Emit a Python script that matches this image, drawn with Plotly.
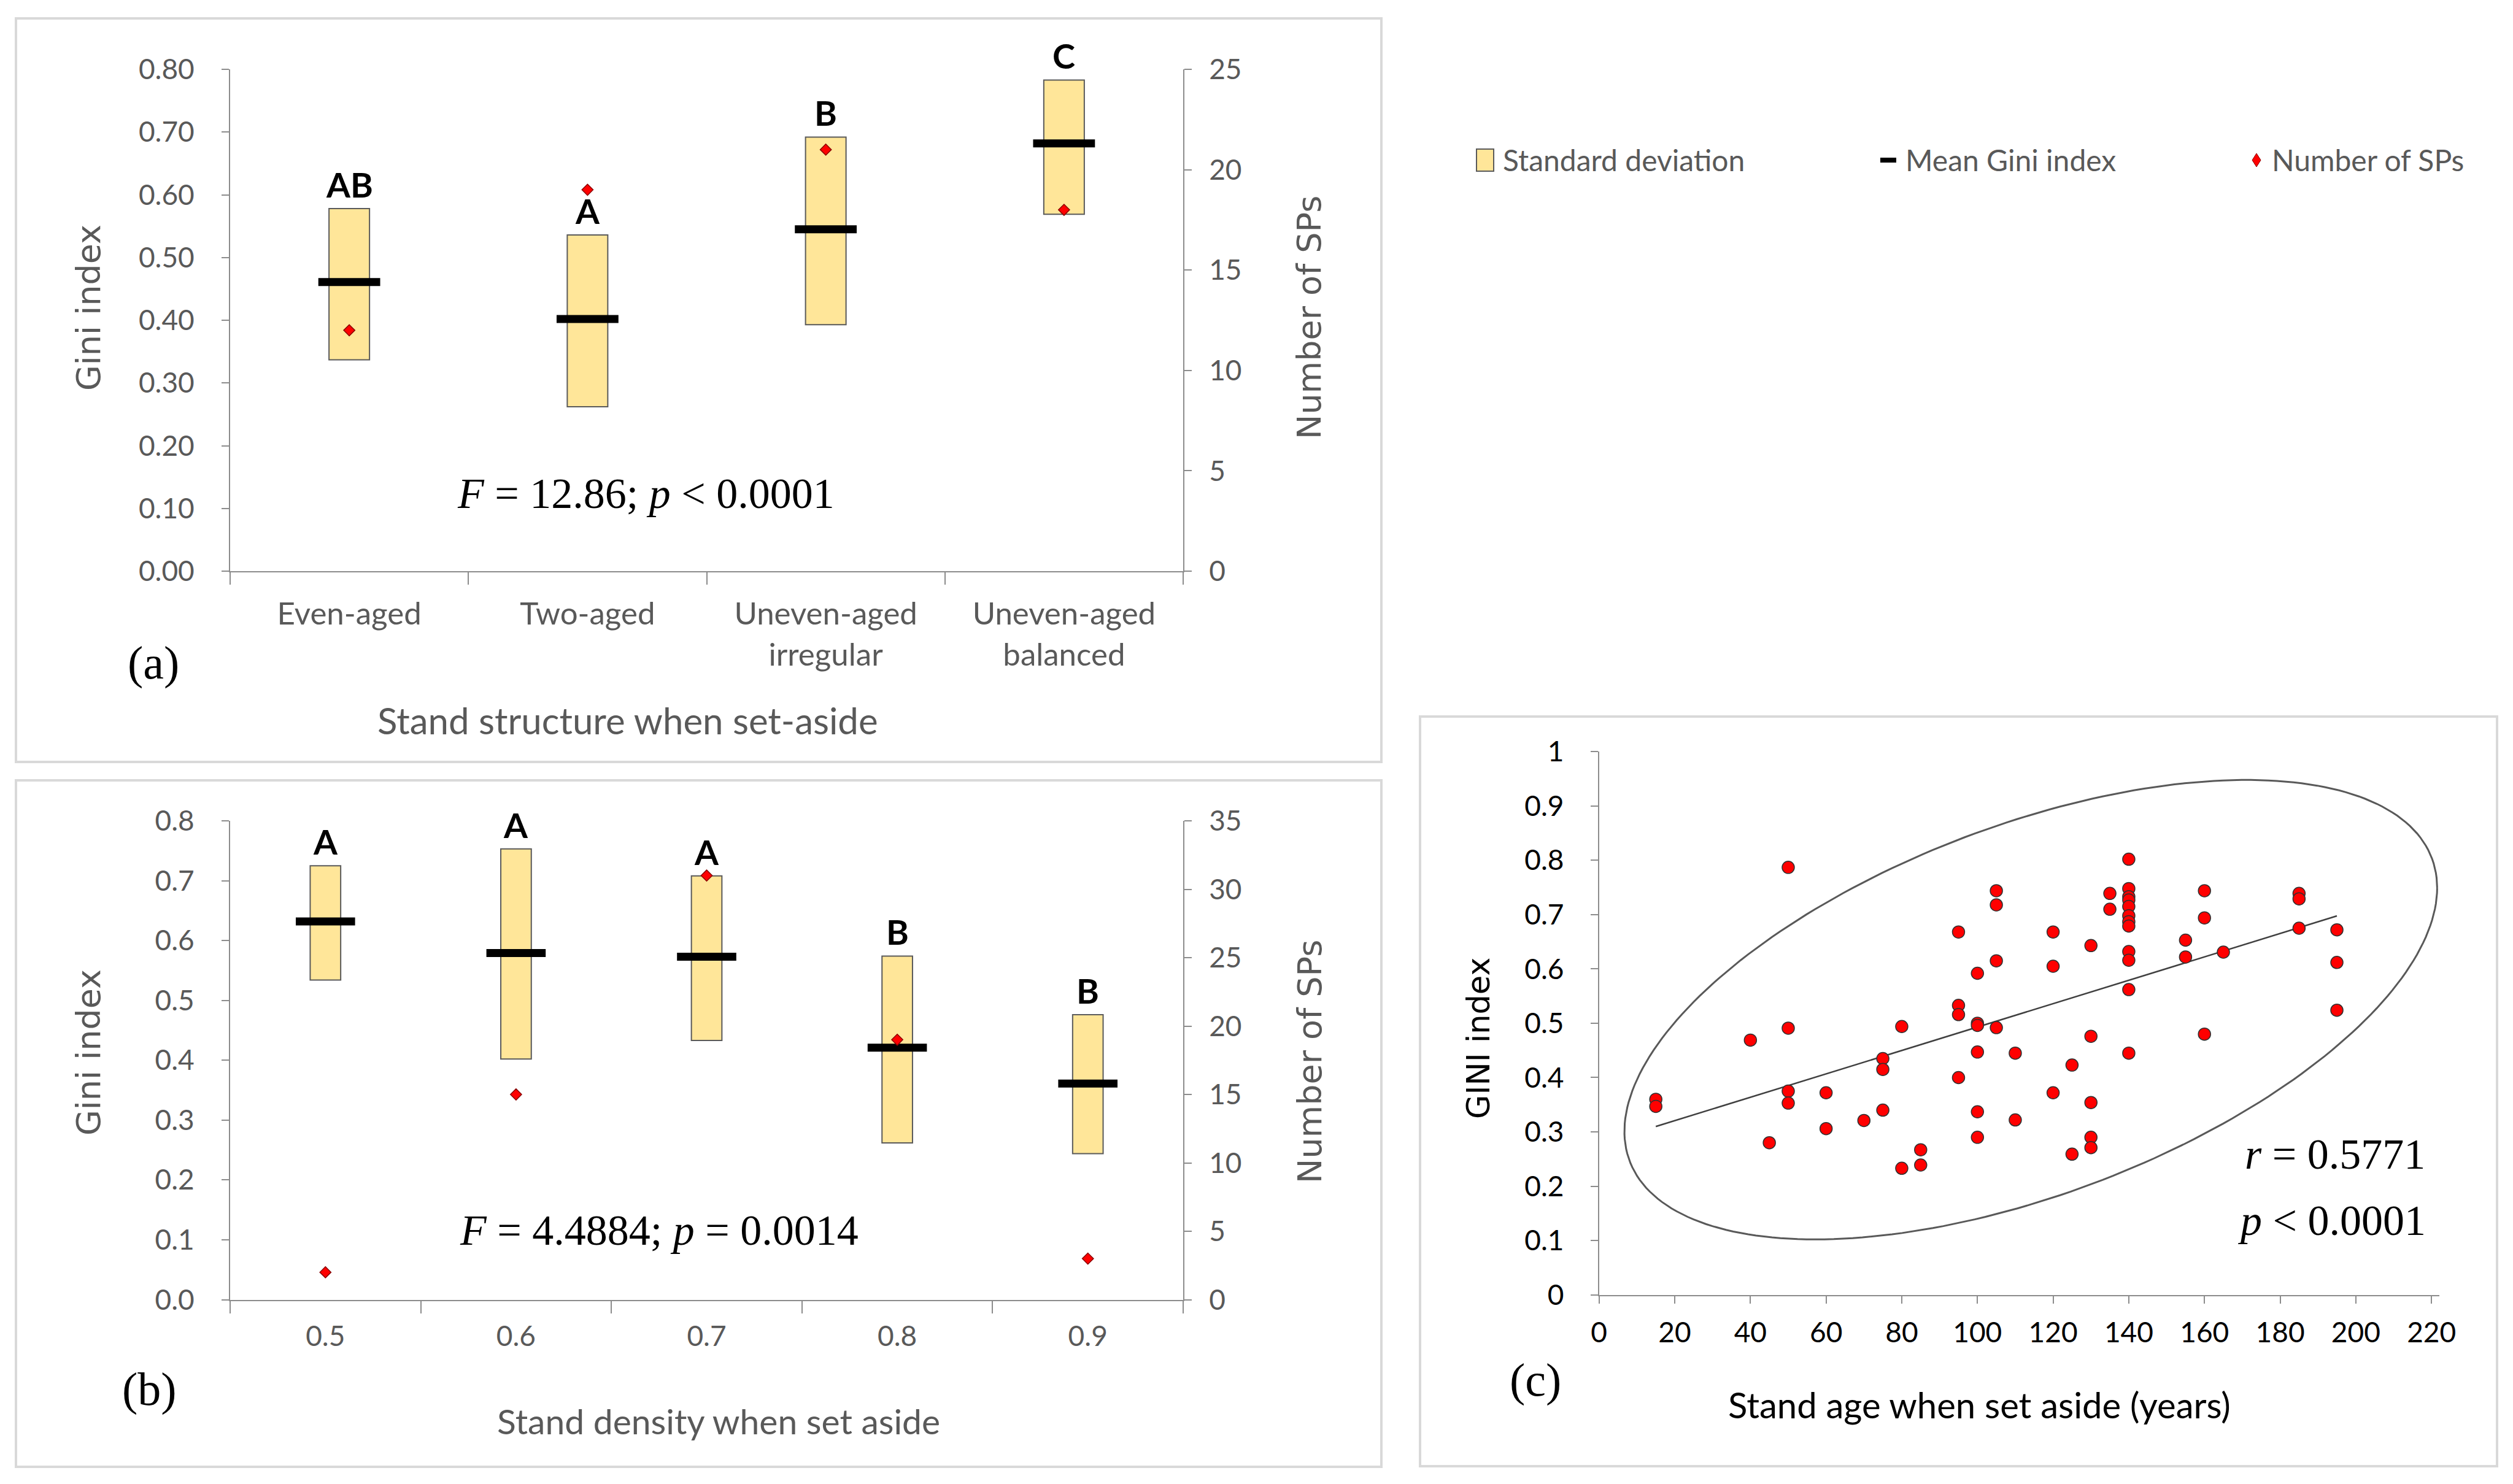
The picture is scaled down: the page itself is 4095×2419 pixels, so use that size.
import numpy as np
import plotly.graph_objects as go

# panel (a) - stand structure
struct_cats = ["Even-aged", "Two-aged", "Uneven-aged<br>irregular", "Uneven-aged<br>balanced"]
struct_sd_low = [0.337, 0.262, 0.393, 0.569]
struct_sd_high = [0.578, 0.536, 0.692, 0.783]
struct_mean = [0.461, 0.402, 0.545, 0.682]
struct_n = [12, 19, 21, 18]
struct_letters = ["AB", "A", "B", "C"]

# panel (b) - stand density
dens_cats = ["0.5", "0.6", "0.7", "0.8", "0.9"]
dens_sd_low = [0.534, 0.402, 0.433, 0.262, 0.244]
dens_sd_high = [0.725, 0.753, 0.708, 0.574, 0.476]
dens_mean = [0.632, 0.579, 0.573, 0.421, 0.361]
dens_n = [2, 15, 31, 19, 3]
dens_letters = ["A", "A", "A", "B", "B"]

# panel (c) - stand age vs gini
age = [15, 15, 40, 45, 50, 50, 50, 50, 60, 60, 70, 75, 75, 75, 80, 80, 85, 85,
       95, 95, 95, 95, 100, 100, 100, 100, 100, 100, 105, 105, 105, 105, 110, 110,
       120, 120, 120, 125, 125, 130, 130, 130, 130, 130, 135, 135,
       140, 140, 140, 140, 140, 140, 140, 140, 140, 140, 140, 140,
       155, 155, 160, 160, 160, 165, 185, 185, 185, 195, 195, 195]
gini = [0.360, 0.347, 0.469, 0.280, 0.787, 0.491, 0.375, 0.353, 0.372, 0.306, 0.321,
        0.435, 0.415, 0.340, 0.494, 0.233, 0.267, 0.239,
        0.668, 0.533, 0.516, 0.400, 0.592, 0.500, 0.496, 0.447, 0.337, 0.290,
        0.744, 0.718, 0.615, 0.492, 0.445, 0.322,
        0.668, 0.605, 0.372, 0.423, 0.259, 0.643, 0.476, 0.354, 0.290, 0.271, 0.739, 0.710,
        0.802, 0.748, 0.733, 0.727, 0.715, 0.698, 0.687, 0.679, 0.632, 0.616, 0.562, 0.445,
        0.653, 0.622, 0.744, 0.694, 0.480, 0.631, 0.739, 0.729, 0.675, 0.672, 0.612, 0.524]

# confidence ellipse
ell_age, ell_gini = 114.1, 0.525
ell_half_age, ell_half_gini = 107.4, 0.423
ell_rho = 0.53

legend_names = ["Standard deviation", "Mean Gini index", "Number of SPs"]

W, H = 4095, 2419
OFF = 8  # page body margin
GREY = "#595959"
AXC = "#8c8c8c"
SANS = "Lato"
WIDE = "DejaVu Sans"
SERIF = "Liberation Serif"
YELLOW = "#FFE699"
BAR_EDGE = "#5a5a5a"


def px(x):
    return (x - OFF) / W


def py(y):
    return 1 - (y - OFF) / H


fig = go.Figure()

# ---- panel a
fig.add_trace(go.Bar(x=struct_cats, y=np.array(struct_sd_high) - np.array(struct_sd_low), base=struct_sd_low,
                     width=0.17, marker=dict(color=YELLOW, line=dict(color=BAR_EDGE, width=2)),
                     name=legend_names[0], xaxis="x", yaxis="y"))
fig.add_trace(go.Scatter(x=struct_cats, y=struct_mean, mode="markers", name=legend_names[1],
                         marker=dict(symbol="line-ew", size=72, color="black", line=dict(width=13, color="black")),
                         xaxis="x", yaxis="y"))
fig.add_trace(go.Scatter(x=struct_cats, y=struct_n, mode="markers", name=legend_names[2],
                         marker=dict(symbol="diamond", size=14, color="#FF0000", line=dict(width=1.5, color="#8b0000")),
                         xaxis="x", yaxis="y2"))

# ---- panel b
fig.add_trace(go.Bar(x=dens_cats, y=np.array(dens_sd_high) - np.array(dens_sd_low), base=dens_sd_low,
                     width=0.16, marker=dict(color=YELLOW, line=dict(color=BAR_EDGE, width=2)),
                     xaxis="x3", yaxis="y3"))
fig.add_trace(go.Scatter(x=dens_cats, y=dens_mean, mode="markers",
                         marker=dict(symbol="line-ew", size=69, color="black", line=dict(width=13, color="black")),
                         xaxis="x3", yaxis="y3"))
fig.add_trace(go.Scatter(x=dens_cats, y=dens_n, mode="markers",
                         marker=dict(symbol="diamond", size=14, color="#FF0000", line=dict(width=1.5, color="#8b0000")),
                         xaxis="x3", yaxis="y4"))

# ---- panel c
t = np.linspace(0, 2 * np.pi, 240)
phi = np.arccos(ell_rho)
fig.add_trace(go.Scatter(x=ell_age + ell_half_age * np.cos(t), y=ell_gini + ell_half_gini * np.cos(t - phi),
                         mode="lines", line=dict(color="#595959", width=3), xaxis="x5", yaxis="y5"))
slope, icpt = np.polyfit(age, gini, 1)
trend_x = np.array([min(age), max(age)])
fig.add_trace(go.Scatter(x=trend_x, y=slope * trend_x + icpt, mode="lines",
                         line=dict(color="#404040", width=2.5), xaxis="x5", yaxis="y5"))
fig.add_trace(go.Scatter(x=age, y=gini, mode="markers",
                         marker=dict(size=20, color="#FF0000", line=dict(width=1.5, color="#303030")),
                         xaxis="x5", yaxis="y5"))


def ax(**kw):
    d = dict(showline=True, linecolor=AXC, linewidth=2, ticks="outside", tickcolor=AXC, tickwidth=2,
             ticklen=12, showgrid=False, zeroline=False, tickfont=dict(family=SANS, size=46, color=GREY))
    d.update(kw)
    return d


fig.update_layout(
    width=W, height=H, margin=dict(l=0, r=0, t=0, b=0, autoexpand=False),
    plot_bgcolor="white", paper_bgcolor="white", showlegend=False,
    xaxis=ax(domain=[px(375), px(1928)], anchor="y", type="category", tickson="boundaries", ticklen=20,
             ticklabelstandoff=24, tickfont=dict(family=SANS, size=51, color=GREY)),
    yaxis=ax(domain=[py(931), py(113)], anchor="x", range=[0, 0.8], dtick=0.1, tickformat=".2f",
             ticklabelstandoff=35),
    yaxis2=ax(overlaying="y", anchor="x", side="right", range=[0, 25], dtick=5, ticklabelstandoff=19),
    xaxis3=ax(domain=[px(375), px(1928)], anchor="y3", type="category", tickson="boundaries", ticklen=20,
              ticklabelstandoff=18),
    yaxis3=ax(domain=[py(2118.5), py(1338)], anchor="x3", range=[0, 0.8], dtick=0.1, tickformat=".1f",
              ticklabelstandoff=35),
    yaxis4=ax(overlaying="y3", anchor="x3", side="right", range=[0, 35], dtick=5, ticklabelstandoff=19),
    xaxis5=ax(domain=[px(2605.7), px(3974.5)], anchor="y5", range=[0, 222], dtick=20, ticklabelstandoff=8,
              tickfont=dict(family=SANS, size=46, color="black")),
    yaxis5=ax(domain=[py(2110.6), py(1225.3)], anchor="x5", range=[0, 1], dtick=0.1, ticklabelstandoff=34,
              tickfont=dict(family=SANS, size=46, color="black")),
)

# panel borders
for x0, y0, x1, y1 in [(26, 30, 2251, 1242), (26, 1272, 2251, 2391), (2314, 1168, 4069, 2390)]:
    fig.add_shape(type="rect", xref="paper", yref="paper", x0=px(x0), x1=px(x1), y0=py(y1), y1=py(y0),
                  line=dict(color="#d9d9d9", width=4), fillcolor="rgba(0,0,0,0)", layer="below")


def note(text, x, y, size, family=SANS, color=GREY, angle=0, xanchor="center"):
    fig.add_annotation(text=text, x=px(x), y=py(y), xref="paper", yref="paper", showarrow=False,
                       font=dict(family=family, size=size, color=color), textangle=angle,
                       xanchor=xanchor, yanchor="middle")


# legend (drawn by hand so the symbols keep the reference proportions)
leg_y = 261
fig.add_shape(type="rect", xref="paper", yref="paper", x0=px(2406), x1=px(2434), y0=py(leg_y + 18), y1=py(leg_y - 18),
              fillcolor=YELLOW, line=dict(color=BAR_EDGE, width=2))
fig.add_shape(type="line", xref="paper", yref="paper", x0=px(3064), x1=px(3090), y0=py(leg_y), y1=py(leg_y),
              line=dict(color="black", width=8))
fig.add_shape(type="path", xref="paper", yref="paper",
              path="M {0},{1} L {2},{3} L {0},{4} L {5},{3} Z".format(px(3677), py(leg_y - 11), px(3684), py(leg_y),
                                                                      py(leg_y + 11), px(3670)),
              fillcolor="#FF0000", line=dict(color="#8b0000", width=1))
note(legend_names[0], 2447, leg_y, 48, xanchor="left")
note(legend_names[1], 3103, leg_y, 48, xanchor="left")
note(legend_names[2], 3700, leg_y, 48, xanchor="left")

# axis titles
note("Stand structure when set-aside", 1023, 1174, 60)
note("Stand density when set aside", 1171, 2316, 57)
note("Stand age when set aside (years)", 3225, 2289, 58, color="black")
note("Gini index", 144, 502, 54, family=WIDE, angle=-90)
note("Number of SPs", 2134, 518, 54, family=WIDE, angle=-90)
note("Gini index", 144, 1716, 54, family=WIDE, angle=-90)
note("Number of SPs", 2134, 1731, 54, family=WIDE, angle=-90)
note("GINI index", 2409, 1692, 51, family=WIDE, color="black", angle=-90)

# panel labels
note("(a)", 250, 1080, 76, family=SERIF, color="black")
note("(b)", 243, 2264, 76, family=SERIF, color="black")
note("(c)", 2502, 2249, 76, family=SERIF, color="black")

# statistics
note("<i>F</i> = 12.86; <i>p</i> &lt; 0.0001", 1052, 804, 70, family=SERIF, color="black")
note("<i>F</i> = 4.4884; <i>p</i> = 0.0014", 1074, 2005, 70, family=SERIF, color="black")
note("<i>r</i> = 0.5771", 3954, 1881, 70, family=SERIF, color="black", xanchor="right")
note("<i>p</i> &lt; 0.0001", 3955, 1989, 70, family=SERIF, color="black", xanchor="right")

# significance letters (x given as category index)
for i, (top, lab) in enumerate(zip(struct_sd_high, struct_letters)):
    fig.add_annotation(text="<b>" + lab + "</b>", x=i, y=top, xref="x", yref="y", showarrow=False,
                       yanchor="bottom", yshift=4, font=dict(family=SANS, size=56, color="black"))
for i, (top, lab) in enumerate(zip(dens_sd_high, dens_letters)):
    fig.add_annotation(text="<b>" + lab + "</b>", x=i, y=top, xref="x3", yref="y3", showarrow=False,
                       yanchor="bottom", yshift=4, font=dict(family=SANS, size=56, color="black"))

fig.write_html("out.html")
